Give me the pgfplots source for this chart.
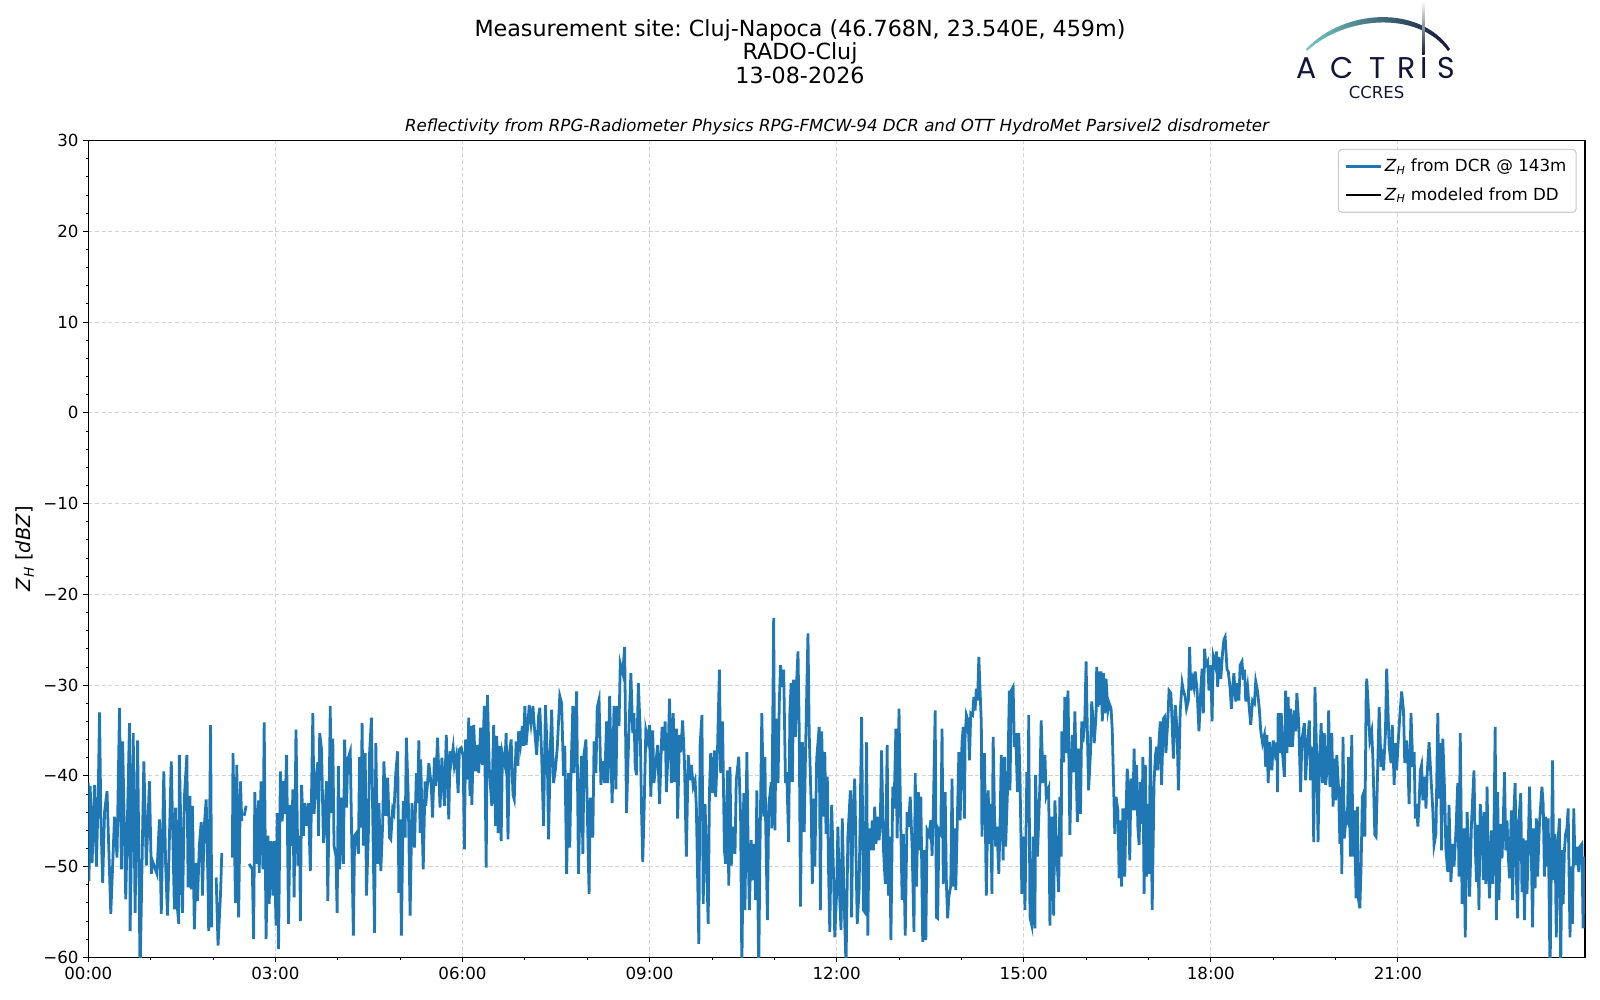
\documentclass[border=0pt]{standalone}
\usepackage{fontspec}
\setmainfont{DejaVu Sans}
\newfontfamily\poppins{Poppins}
\usepackage{pgfplots}
\pgfplotsset{compat=1.18}
\usepackage{pgfplotstable}
\frenchspacing
\definecolor{mplblue}{HTML}{1F77B4}
\definecolor{gridgray}{HTML}{D3D3D3}
\definecolor{legedge}{HTML}{CCCCCC}
\definecolor{actrisNavy}{HTML}{111638}
\definecolor{actrisTeal}{HTML}{74C7C2}

\pgfplotstableread{
h z
0.00 -40.8
0.01 -51.6
0.03 -41.1
0.06 -49.6
0.10 -41.0
0.13 -50.0
0.16 -41.5
0.18 -33.0
0.20 -44.4
0.23 -51.8
0.26 -44.0
0.30 -41.7
0.36 -55.2
0.42 -44.5
0.46 -49.0
0.50 -32.5
0.53 -50.3
0.55 -36.2
0.60 -53.6
0.66 -34.2
0.67 -57.1
0.72 -35.3
0.75 -55.1
0.79 -36.1
0.83 -62.0
0.89 -38.4
0.93 -49.9
0.98 -40.6
1.01 -50.8
1.03 -49.4
1.10 -50.8
1.14 -44.8
1.17 -55.2
1.21 -39.5
1.24 -49.9
1.27 -55.4
1.33 -38.4
1.38 -54.7
1.40 -43.5
1.43 -54.7
1.45 -56.3
1.46 -37.7
1.51 -55.1
1.54 -42.4
1.58 -37.7
1.60 -52.3
1.63 -42.2
1.65 -52.5
1.67 -43.3
1.70 -56.9
1.73 -49.6
1.75 -53.8
1.78 -47.7
1.81 -45.1
1.83 -53.2
1.86 -45.5
1.89 -42.6
1.92 -52.3
1.93 -57.1
1.96 -34.4
1.98 -56.7
2.01 nan
2.05 -51.2
2.08 -58.7
2.12 -53.0
2.14 -48.5
2.20 nan
2.31 -49.0
2.32 -37.5
2.36 -54.0
2.38 -38.8
2.41 -55.6
2.44 -40.6
2.46 -45.0
2.48 nan
2.50 -44.4
2.53 -43.3
2.55 nan
2.58 -49.7
2.63 -50.3
2.65 -58.0
2.67 -41.8
2.69 -49.7
2.73 -42.7
2.74 -50.7
2.77 -40.6
2.80 -50.3
2.82 -34.1
2.85 -58.0
2.88 -46.6
2.90 -54.1
2.93 -47.2
2.96 -53.2
2.98 -47.2
3.01 -56.5
3.03 -44.1
3.05 -59.1
3.08 -39.5
3.11 -45.0
3.13 -40.6
3.15 -44.2
3.18 -37.7
3.21 -56.3
3.24 -43.2
3.26 -47.7
3.28 -41.5
3.30 -53.4
3.33 -34.9
3.36 -49.9
3.39 -46.6
3.40 -56.0
3.42 -41.0
3.45 -46.6
3.47 -43.0
3.50 -45.5
3.53 -43.0
3.56 -50.5
3.60 -33.1
3.62 -44.2
3.65 -40.3
3.68 -38.5
3.69 -46.6
3.71 -35.3
3.74 -37.1
3.77 -47.4
3.79 -44.8
3.82 -40.6
3.84 -53.8
3.88 -32.3
3.89 -44.1
3.92 -35.9
3.94 -47.7
3.97 -48.8
3.99 -55.1
4.01 -38.9
4.03 -50.3
4.06 -42.4
4.09 -49.7
4.11 -36.0
4.14 -43.5
4.16 -38.2
4.20 -37.3
4.25 -57.6
4.27 -46.6
4.30 -46.3
4.33 -48.6
4.35 -37.9
4.37 -45.7
4.39 -34.2
4.41 -47.7
4.44 -37.5
4.46 -53.2
4.49 -46.6
4.51 -37.5
4.54 -33.6
4.56 -44.1
4.59 -57.3
4.61 -36.4
4.64 -49.7
4.66 -43.0
4.69 -50.5
4.72 -45.3
4.74 -38.4
4.77 -44.4
4.80 -40.2
4.83 -46.8
4.85 -47.0
4.88 -43.7
4.90 -44.1
4.93 -39.7
4.96 -37.3
4.98 -52.9
5.00 -44.8
5.02 -57.6
5.05 -42.8
5.08 -46.8
5.10 -35.8
5.13 -42.2
5.16 -55.4
5.19 -43.0
5.23 -47.9
5.26 -39.7
5.28 -43.0
5.30 -36.1
5.32 -46.3
5.33 -38.2
5.37 -50.3
5.40 -40.6
5.41 -43.3
5.44 -40.8
5.46 -38.6
5.50 -41.1
5.52 -44.6
5.55 -38.0
5.57 -41.1
5.60 -35.8
5.64 -43.5
5.67 -38.0
5.71 -43.3
5.74 -35.5
5.78 -44.8
5.80 -37.3
5.82 -38.4
5.85 -36.9
5.87 -38.9
5.90 -37.8
5.93 -41.9
5.95 -37.1
5.98 -36.9
6.01 -37.8
6.03 -48.1
6.05 -36.0
6.08 -40.4
6.10 -33.6
6.12 -42.2
6.14 -34.5
6.15 -43.2
6.18 -34.4
6.21 -39.5
6.24 -36.6
6.26 -39.7
6.29 -34.7
6.32 -38.8
6.35 -32.3
6.38 -50.1
6.40 -31.1
6.43 -39.3
6.47 -43.3
6.50 -34.4
6.53 -45.5
6.55 -35.6
6.57 -46.3
6.60 -36.7
6.62 -47.2
6.64 -37.5
6.68 -38.8
6.70 -35.3
6.73 -47.0
6.75 -37.7
6.78 -36.0
6.81 -42.1
6.83 -42.6
6.86 -36.2
6.89 -38.9
6.90 -35.1
6.93 -36.6
6.96 -34.5
6.98 -36.7
7.00 -32.3
7.02 -36.6
7.05 -34.2
7.07 -32.2
7.10 -34.2
7.13 -32.3
7.15 -34.4
7.19 -37.7
7.22 -33.4
7.24 -32.5
7.27 -37.8
7.30 -45.5
7.33 -32.2
7.36 -37.8
7.38 -47.0
7.41 -36.7
7.43 -32.7
7.46 -40.8
7.49 -39.3
7.52 -36.9
7.56 -31.2
7.59 -32.0
7.62 -40.0
7.64 -36.7
7.67 -50.8
7.70 -39.7
7.72 -47.9
7.74 -39.7
7.77 -32.3
7.79 -39.7
7.83 -30.7
7.86 -50.8
7.89 -41.1
7.91 -37.8
7.93 -48.6
7.95 -37.5
7.98 -36.0
8.00 -43.3
8.03 -53.0
8.05 -42.4
8.09 -46.8
8.11 -36.2
8.14 -39.7
8.16 -32.5
8.19 -31.6
8.22 -41.0
8.25 -38.4
8.28 -40.8
8.31 -34.0
8.33 -40.8
8.36 -31.2
8.38 -37.7
8.40 -43.0
8.43 -32.3
8.46 -41.5
8.48 -32.3
8.51 -34.5
8.53 -27.6
8.57 -28.7
8.60 -25.8
8.63 -44.1
8.67 -34.7
8.70 -28.7
8.73 -35.3
8.75 -33.1
8.77 -39.0
8.79 -39.9
8.82 -29.8
8.85 -35.0
8.87 -43.4
8.89 -49.5
8.91 -44.5
8.94 -35.0
8.97 -36.1
9.00 -34.4
9.02 -42.3
9.05 -35.0
9.07 -40.8
9.10 -38.6
9.13 -36.6
9.16 -43.1
9.18 -38.6
9.20 -34.6
9.23 -37.2
9.25 -34.0
9.27 -41.8
9.30 -36.8
9.32 -31.5
9.35 -40.8
9.38 -33.1
9.40 -40.7
9.43 -34.8
9.45 -44.7
9.48 -35.5
9.50 -37.4
9.53 -33.9
9.56 -38.6
9.59 -48.9
9.62 -37.7
9.65 -40.5
9.67 -38.8
9.70 -41.2
9.73 -40.5
9.75 -43.4
9.79 -58.5
9.81 -36.6
9.84 -33.3
9.86 -54.1
9.89 -43.1
9.94 -56.3
9.96 -41.9
9.98 -37.5
10.01 -41.9
10.04 -37.2
10.06 -42.3
10.09 -37.0
10.12 -28.3
10.14 -39.7
10.17 -34.0
10.20 -48.2
10.22 -49.7
10.25 -39.4
10.27 -52.1
10.29 -39.0
10.31 -49.9
10.34 -45.6
10.37 -48.6
10.39 -40.5
10.43 -37.9
10.46 -44.7
10.48 -61.5
10.51 -41.9
10.53 -54.8
10.56 -37.4
10.58 -47.5
10.60 -54.8
10.63 -47.1
10.65 -51.5
10.68 -47.5
10.70 -53.7
10.72 -41.6
10.75 -62.0
10.77 -48.2
10.80 -33.1
10.83 -44.5
10.85 -37.9
10.86 -44.5
10.89 -55.9
10.91 -43.4
10.95 -40.7
10.96 -45.8
10.99 -22.6
11.01 -46.0
11.03 -33.7
11.06 -40.8
11.08 -32.0
11.10 -27.8
11.13 -30.2
11.15 -28.3
11.18 -40.8
11.20 -39.6
11.23 -47.3
11.25 -33.1
11.27 -29.8
11.29 -40.7
11.31 -29.4
11.34 -35.7
11.36 -29.4
11.38 -26.3
11.40 -35.0
11.42 -54.4
11.45 -36.3
11.48 -46.2
11.50 -37.7
11.54 -24.3
11.56 -35.3
11.59 -42.9
11.61 -51.9
11.63 -42.5
11.65 -50.0
11.68 -38.1
11.72 -34.6
11.74 -54.8
11.76 -35.1
11.79 -44.5
11.81 -37.4
11.83 -46.4
11.85 -40.1
11.87 -50.4
11.89 -57.2
11.92 -43.2
11.95 -50.8
11.97 -57.8
12.00 -52.8
12.02 -45.6
12.04 -51.9
12.07 -57.0
12.09 -44.7
12.12 -53.9
12.15 -61.0
12.18 -46.7
12.22 -41.6
12.24 -55.6
12.26 -44.2
12.29 -40.3
12.31 -48.6
12.33 -56.3
12.36 -52.6
12.40 -33.5
12.43 -54.8
12.45 -55.0
12.48 -36.3
12.50 -57.6
12.52 -45.8
12.55 -48.2
12.57 -44.9
12.59 -48.2
12.61 -43.4
12.63 -47.5
12.66 -44.5
12.68 -47.1
12.70 -45.1
12.72 -37.2
12.75 -48.0
12.78 -51.9
12.81 -36.6
12.83 -53.2
12.85 -46.7
12.87 -58.1
12.90 -41.2
12.92 -43.6
12.95 -34.8
12.97 -46.9
13.00 -32.6
13.02 -42.3
13.05 -53.7
13.07 -46.4
13.10 -57.6
13.13 -44.0
13.15 -45.6
13.18 -42.3
13.21 -47.8
13.24 -57.2
13.26 -39.7
13.28 -52.2
13.31 -41.8
13.33 -48.2
13.35 -42.3
13.38 -58.3
13.40 -48.2
13.43 -58.1
13.45 -46.0
13.48 -46.5
13.51 -44.9
13.53 -48.8
13.55 -44.0
13.58 -32.8
13.60 -55.6
13.62 -55.7
13.64 -46.0
13.67 -46.4
13.69 -34.8
13.71 -51.9
13.74 -41.8
13.76 -51.9
13.78 -55.7
13.80 -53.3
13.83 -52.1
13.85 -40.3
13.87 -52.2
13.89 -45.8
13.91 -52.6
13.93 -46.5
13.96 -37.4
13.98 -44.9
14.01 -36.3
14.03 -34.6
14.05 -44.7
14.06 -35.7
14.08 -33.3
14.11 -34.0
14.13 -38.3
14.15 -33.1
14.18 -33.3
14.20 -31.3
14.22 -32.8
14.24 -30.4
14.26 -31.7
14.28 -26.9
14.30 -30.6
14.32 -34.2
14.33 -46.7
14.35 -40.8
14.37 -37.5
14.40 -53.2
14.43 -41.6
14.45 -47.5
14.47 -43.1
14.49 -53.0
14.51 -35.7
14.53 -43.8
14.55 -47.8
14.57 -45.6
14.60 -50.8
14.62 -45.3
14.64 -37.7
14.67 -49.3
14.69 -37.9
14.71 -47.8
14.74 -41.6
14.77 -30.6
14.78 -41.6
14.80 -30.6
14.83 -30.2
14.85 -36.8
14.87 -35.3
14.90 -41.8
14.92 -35.3
14.94 -40.1
14.97 -53.0
15.00 -46.7
15.02 -54.8
15.05 -39.6
15.07 -44.9
15.08 -33.3
15.10 -55.6
15.13 -56.5
15.15 -46.7
15.18 -56.8
15.19 -39.9
15.22 -48.9
15.24 -44.9
15.26 -40.8
15.28 -33.9
15.31 -40.8
15.34 -37.7
15.36 -42.3
15.40 -41.4
15.42 -56.5
15.45 -44.5
15.48 -55.4
15.50 -42.7
15.53 -48.6
15.56 -52.8
15.58 -42.3
15.60 -48.9
15.61 -35.1
15.64 -38.5
15.66 -31.3
15.68 -37.5
15.71 -30.6
15.74 -46.5
15.76 -39.4
15.78 -35.5
15.80 -39.6
15.82 -32.9
15.86 -45.1
15.88 -37.0
15.91 -44.2
15.93 -34.0
15.95 -36.3
15.98 -33.7
16.00 -27.4
16.02 -35.0
16.04 -41.6
16.07 -37.5
16.09 -31.8
16.12 -34.6
16.13 -36.4
16.16 -33.3
16.17 -28.0
16.19 -32.4
16.21 -28.5
16.22 -32.2
16.24 -28.5
16.26 -34.0
16.28 -28.7
16.30 -33.1
16.32 -29.3
16.35 -32.8
16.37 -32.0
16.40 -32.6
16.42 -35.0
16.46 -46.4
16.48 -42.3
16.51 -43.8
16.53 -51.3
16.55 -44.9
16.57 -52.2
16.59 -43.6
16.62 -51.1
16.64 -44.0
16.66 -39.2
16.68 -42.1
16.70 -49.3
16.72 -40.3
16.75 -43.8
16.77 -37.0
16.79 -43.8
16.81 -38.8
16.83 -45.6
16.85 -47.6
16.87 -40.7
16.90 -45.3
16.91 -37.9
16.93 -53.0
16.95 -38.8
16.97 -51.1
16.99 -43.1
17.01 -50.8
17.03 -35.7
17.06 -54.8
17.09 -40.7
17.11 -37.9
17.13 -36.8
17.15 -39.4
17.17 -36.1
17.19 -34.0
17.21 -41.0
17.24 -33.7
17.26 -33.5
17.28 -37.5
17.31 -33.9
17.33 -30.6
17.36 -30.9
17.38 -34.2
17.40 -38.1
17.43 -32.2
17.46 -35.0
17.48 -41.6
17.51 -32.8
17.54 -29.8
17.56 -30.6
17.59 -31.3
17.61 -32.6
17.64 -31.7
17.66 -25.8
17.68 -30.6
17.71 -29.4
17.73 -30.2
17.75 -28.5
17.78 -30.6
17.81 -35.1
17.84 -30.4
17.86 -28.2
17.88 -33.1
17.90 -26.0
17.92 -27.8
17.95 -27.4
17.97 -30.6
18.00 -27.8
18.02 -34.0
18.04 -26.9
18.07 -27.8
18.09 -26.3
18.11 -30.2
18.13 -26.9
18.16 -29.3
18.19 -26.3
18.21 -25.0
18.23 -24.7
18.26 -28.3
18.28 -28.5
18.31 -30.4
18.33 -32.6
18.35 -30.4
18.37 -28.7
18.40 -31.8
18.43 -29.8
18.45 -31.7
18.47 -27.8
18.50 -27.4
18.52 -29.4
18.54 -28.3
18.56 -31.8
18.59 -30.2
18.61 -32.0
18.64 -34.4
18.67 -31.7
18.70 -32.0
18.72 -29.6
18.75 -30.7
18.78 -32.8
18.80 -35.0
18.83 -36.4
18.86 -35.5
18.88 -39.0
18.90 -35.5
18.92 -40.8
18.94 -36.3
18.96 -37.7
18.98 -39.4
19.00 -36.1
19.03 -37.5
19.06 -36.3
19.07 -41.8
19.08 -33.1
19.11 -37.5
19.13 -33.1
19.15 -37.5
19.18 -40.1
19.20 -30.6
19.22 -37.5
19.24 -31.3
19.26 -36.8
19.28 -32.6
19.31 -36.8
19.34 -32.8
19.36 -35.1
19.38 -30.9
19.41 -34.2
19.44 -41.8
19.46 -36.1
19.50 -34.2
19.52 -40.5
19.55 -36.4
19.58 -33.9
19.60 -40.5
19.63 -36.8
19.65 -47.3
19.67 -30.2
19.70 -38.5
19.72 -47.3
19.74 -38.6
19.77 -34.2
19.79 -40.8
19.82 -35.3
19.84 -41.0
19.87 -39.0
19.89 -32.8
19.91 -41.2
19.94 -35.3
19.96 -43.4
19.98 -38.1
20.00 -42.7
20.02 -37.7
20.05 -41.6
20.07 -47.5
20.09 -41.2
20.10 -50.8
20.12 -35.7
20.14 -46.9
20.17 -44.5
20.19 -44.9
20.21 -37.9
20.24 -48.9
20.26 -35.5
20.28 -48.9
20.30 -43.8
20.33 -53.5
20.35 -43.4
20.37 -53.7
20.39 -54.6
20.41 -50.0
20.43 -42.3
20.45 -41.9
20.47 -46.7
20.49 -31.7
20.50 -29.3
20.52 -31.7
20.55 -36.1
20.58 -35.1
20.60 -38.3
20.63 -46.5
20.65 -46.7
20.68 -37.9
20.70 -32.4
20.73 -39.0
20.75 -38.1
20.77 -39.4
20.80 -35.3
20.82 -28.2
20.86 -36.8
20.89 -38.6
20.91 -34.4
20.94 -41.0
20.96 -36.4
20.98 -39.4
21.00 -36.8
21.03 -33.5
21.06 -30.7
21.09 -32.8
21.11 -38.6
21.14 -36.1
21.16 -38.6
21.18 -43.1
21.21 -33.1
21.24 -39.0
21.26 -37.4
21.28 -44.7
21.30 -43.1
21.32 -45.6
21.34 -43.1
21.36 -39.4
21.38 -38.8
21.40 -42.7
21.43 -40.1
21.45 -43.6
21.47 -39.7
21.50 -36.3
21.53 -40.1
21.56 -43.8
21.58 -47.6
21.61 -46.4
21.64 -33.1
21.66 -42.5
21.68 -36.4
21.70 -48.2
21.72 -35.9
21.75 -41.9
21.77 -48.2
21.80 -50.6
21.82 -43.2
21.85 -51.7
21.88 -47.5
21.90 -50.0
21.93 -46.2
21.96 -40.8
21.98 -51.1
22.00 -35.3
22.03 -54.1
22.06 -45.8
22.08 -57.8
22.11 -44.0
22.13 -48.0
22.15 -53.3
22.18 -45.3
22.20 -42.3
22.22 -39.4
22.24 -47.5
22.26 -51.7
22.28 -45.4
22.30 -54.8
22.32 -43.1
22.35 -45.3
22.37 -51.5
22.39 -44.0
22.41 -51.9
22.43 -41.2
22.45 -49.7
22.47 -53.5
22.50 -46.0
22.52 -51.9
22.54 -46.2
22.56 -34.6
22.58 -55.9
22.60 -41.8
22.62 -53.7
22.65 -45.3
22.67 -49.1
22.69 -44.9
22.71 -39.6
22.73 -48.2
22.75 -44.9
22.77 -48.8
22.79 -51.3
22.82 -43.8
22.84 -53.7
22.86 -44.0
22.88 -40.8
22.90 -51.1
22.92 -55.7
22.94 -44.9
22.97 -41.9
22.99 -52.8
23.01 -46.9
23.03 -55.9
23.05 -47.1
23.07 -53.0
23.09 -48.2
23.11 -41.2
23.14 -48.6
23.16 -56.7
23.18 -45.8
23.20 -52.4
23.22 -44.7
23.24 -51.1
23.27 -45.3
23.29 -43.2
23.31 -41.2
23.33 -43.1
23.35 -51.1
23.37 -44.5
23.39 -50.0
23.41 -44.7
23.44 -62.0
23.46 -49.9
23.48 -38.3
23.50 -51.5
23.52 -46.4
23.54 -57.8
23.56 -48.2
23.59 -44.7
23.61 -62.0
23.63 -48.2
23.65 -54.1
23.67 -48.2
23.69 -46.4
23.71 -45.8
23.73 -43.6
23.76 -57.8
23.78 -50.0
23.80 -56.3
23.82 -43.6
23.84 -49.7
23.86 -49.7
23.88 -47.8
23.90 -50.6
23.92 -47.8
23.95 -47.5
23.97 -56.8
23.99 -48.9
}\dcrdata

\begin{document}
\begin{tikzpicture}
\useasboundingbox (0,0) rectangle (1152pt,720pt);
\begin{axis}[
  at={(63.6pt,30.7pt)}, anchor=south west,
  width=1077.6pt, height=588.1pt, scale only axis,
  xmin=0, xmax=24, ymin=-60, ymax=30,
  xtick={0,3,...,21},
  xticklabels={00:00,03:00,06:00,09:00,12:00,15:00,18:00,21:00},
  minor x tick num=2,
  ytick={-60,-50,-40,-30,-20,-10,0,10,20,30},
  yticklabels={−60,−50,−40,−30,−20,−10,0,10,20,30},
  minor y tick num=4,
  tick pos=left,
  tick align=outside,
  major tick length=3.5pt, minor tick length=2pt,
  every tick/.style={black, line width=0.8pt},
  every minor tick/.append style={line width=0.6pt},
  grid=major,
  major grid style={gridgray, dash pattern=on 3pt off 1.8pt, line width=0.8pt},
  axis line style={line width=0.8pt},
  ticklabel style={font=\fontsize{12}{14}\selectfont},
  ylabel={\textit{Z}\textsubscript{\textit{H}} [\textit{dBZ}]},
  ylabel style={font=\fontsize{14}{16}\selectfont, at={(axis description cs:-0.0423,0.5)}, anchor=center},
  legend style={at={(1,1)}, anchor=north east, xshift=-6pt, yshift=-6pt,
    draw=legedge, line width=0.8pt, rounded corners=2.5pt, fill=white,
    fill opacity=0.8, text opacity=1, draw opacity=1,
    font=\fontsize{12}{14}\selectfont, cells={anchor=west},
    inner xsep=5pt, inner ysep=5pt, row sep=6pt},
  legend image code/.code={\draw[#1, line width=1.5pt] (0pt,0pt) -- (25pt,0pt);},
  unbounded coords=jump,
]
\addplot[mplblue, line width=2pt] table[x=h, y=z] {\dcrdata};
\addlegendentry{\textit{Z}\textsubscript{\textit{H}} from DCR @ 143m}
\addlegendimage{black, line width=1.5pt}
\addlegendentry{\textit{Z}\textsubscript{\textit{H}} modeled from DD}
\end{axis}

\begin{scope}[x=0.72pt, y=-0.72pt, shift={(0,720pt)}]
  \node[anchor=base, inner sep=0pt, font=\fontsize{16}{19}\selectfont] at (800,36.5) {Measurement site: Cluj-Napoca (46.768N, 23.540E, 459m)};
  \node[anchor=base, inner sep=0pt, font=\fontsize{16}{19}\selectfont] at (800,60) {RADO-Cluj};
  \node[anchor=base, inner sep=0pt, font=\fontsize{16}{19}\selectfont] at (800,83.5) {13-08-2026};
  \node[anchor=base, inner sep=0pt, font=\fontsize{12}{14}\selectfont\itshape] at (837,132) {Reflectivity from RPG-Radiometer Physics RPG-FMCW-94 DCR and OTT HydroMet Parsivel2 disdrometer};
  % ACTRIS logo
  \shade[left color=actrisTeal, right color=actrisNavy]
    (1306,49) .. controls (1345,8) and (1420,5) .. (1450,49)
    -- (1448,51) .. controls (1419,11) and (1346,15) .. (1307,51) -- cycle;
  \shade[top color=white, bottom color=actrisNavy] (1422,1) rectangle (1424.5,55);
  \foreach \x/\l in {1307/A,1342.5/C,1377.5/T,1406.5/R,1424/I,1446/S}
    \node[anchor=base, inner sep=0pt, font=\poppins\fontsize{21.6}{24}\selectfont, text=actrisNavy] at (\x,78.3) {\l};
  \node[anchor=base, inner sep=0pt, font=\fontsize{11.9}{14}\selectfont, text=actrisNavy] at (1376.5,98.5) {CCRES};
\end{scope}
\end{tikzpicture}
\end{document}
